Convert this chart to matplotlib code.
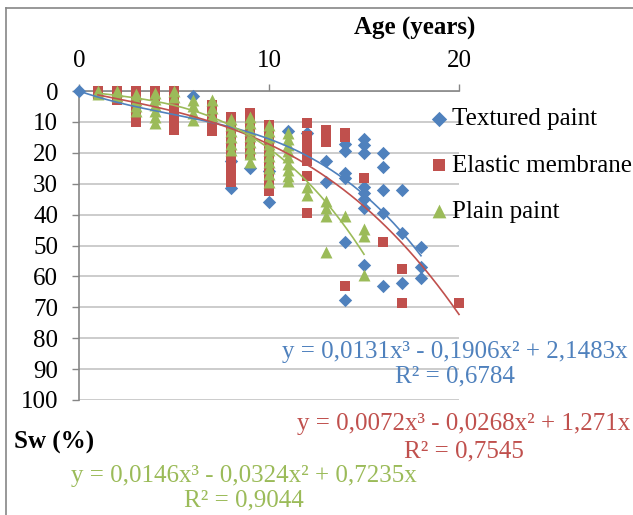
import matplotlib.pyplot as plt
import numpy as np
from matplotlib.lines import Line2D

plt.rcParams['font.family'] = ['Liberation Serif', 'DejaVu Serif']

W, H = 633, 515

# Textured paint
tex_x = [0, 6, 8, 8, 9, 10, 10, 11, 12, 13, 13,
         14, 14, 14, 14, 14, 14,
         15, 15, 15, 15, 15, 15, 15, 15,
         16, 16, 16, 16, 16, 17, 17, 17, 18, 18, 18]
tex_y = [0, 1.5, 22.5, 31.5, 25, 26, 36, 13, 13.5, 22.5, 29.5,
         17, 19.5, 26.5, 28, 49, 67.7,
         15.5, 17.5, 20, 31, 33, 35, 38, 56.3,
         20, 24.5, 32, 39.5, 63, 32, 46, 62, 50.5, 57, 60.5]

# Elastic membrane
ela_x = [1, 1, 2, 2, 2, 3, 3, 3, 3, 3, 3, 4, 4,
         5, 5, 5, 5, 5, 5, 5,
         7, 7, 7, 7, 7,
         8, 8, 8, 8, 8, 8, 8, 8, 8, 8, 8,
         9, 9, 9, 9, 9, 9, 9, 9,
         10, 10, 10, 10, 10, 10, 10, 10, 10, 10, 10, 10,
         12, 12, 12, 12, 12, 12, 12, 12,
         13, 13, 13, 14, 14, 14, 15, 16, 17, 17, 20]
ela_y = [0, 1, 0, 2, 3, 0, 2, 4, 6, 8, 10, 0, 1.5,
         0, 2, 4, 6, 8, 10, 12.5,
         4.5, 7, 9, 11, 13,
         8.5, 11, 13, 15, 17, 19, 21, 23, 25, 27, 29.5,
         7, 9, 11, 13, 15, 17, 19, 20.5,
         11, 13, 15, 17, 19, 21, 23, 25, 27, 29, 31, 32.5,
         10.5, 14.5, 16.5, 18.5, 20.5, 22.5, 27.5, 39.5,
         12.5, 14.5, 16.5, 13.5, 15, 63, 28, 49, 57.6, 68.6, 68.6]

# Plain paint
pla_x = [1, 1, 2, 2, 3, 3, 3, 3, 4, 4, 4, 4, 4, 4, 5, 5,
         6, 6, 6, 6, 7, 7, 7,
         8, 8, 8, 8, 8, 8,
         9, 9, 9, 9, 9, 9, 9, 9,
         10, 10, 10, 10, 10, 10, 10, 10, 10, 10,
         11, 11, 11, 11, 11, 11, 11, 11, 11,
         12, 12, 13, 13, 13, 13, 14, 15, 15, 15]
pla_y = [0, 1, 0, 1.5, 1, 3, 5, 6.5, 0.5, 2.5, 4.5, 6.5, 8.5, 10.5, 0, 2,
         3, 5, 7, 9.5, 3, 5.5, 8,
         9, 11, 13, 15, 17, 19,
         8.5, 10.5, 12.5, 14.5, 16.5, 18.5, 20.5, 23,
         11, 13, 15, 17, 19, 21, 23, 25, 27, 29.5,
         13.5, 15.5, 17.5, 19.5, 21.5, 23.5, 25.5, 27.5, 29,
         31, 33.5, 35.5, 38, 40.5, 52, 40.5, 44.5, 47, 59.5]

# cubic trend coefficients (zero intercept) and R²
tex_coef = [0.0131, -0.1906, 2.1483, 0]
ela_coef = [0.0072, -0.0268, 1.271, 0]
pla_coef = [0.0146, -0.0324, 0.7235, 0]
tex_r2 = 0.6784
ela_r2 = 0.7545
pla_r2 = 0.9044

BLUE = '#4F81BD'
RED = '#C0504D'
GREEN = '#9BBB59'
FS = 18


def num(v):
    s = f"{abs(v):.4f}".rstrip('0').rstrip('.')
    return s.replace('.', ',')


def equation(c):
    a, b, d = c[0], c[1], c[2]
    sb = '-' if b < 0 else '+'
    sd = '-' if d < 0 else '+'
    return f"y = {num(a)}x³ {sb} {num(b)}x² {sd} {num(d)}x"


def px(x, y):
    return x / W, 1 - y / H


fig = plt.figure(figsize=(W / 100, H / 100), dpi=100)
ax = fig.add_axes([79 / W, 115 / H, 380 / W, 309 / H])

ax.scatter(tex_x, tex_y, marker='D', s=6.8 ** 2, color=BLUE, linewidths=0,
           clip_on=False, zorder=3, label='Textured paint')
ax.scatter(ela_x, ela_y, marker='s', s=7.6 ** 2, color=RED, linewidths=0,
           clip_on=False, zorder=4, label='Elastic membrane')
ax.scatter(pla_x, pla_y, marker='^', s=8.6 ** 2, color=GREEN, linewidths=0,
           clip_on=False, zorder=5, label='Plain paint')

for xs, coef, col in [(tex_x, tex_coef, BLUE), (ela_x, ela_coef, RED),
                      (pla_x, pla_coef, GREEN)]:
    t = np.linspace(min(xs), max(xs), 200)
    ax.plot(t, np.polyval(coef, t), color=col, lw=1.2, zorder=6, clip_on=False)

ax.set_xlim(0, 20)
ax.set_ylim(100, 0)
ax.set_xticks([0, 10, 20])
ax.set_yticks(np.arange(0, 101, 10))
ax.xaxis.tick_top()
ax.tick_params(axis='x', direction='out', length=5, width=1, color='#868686',
               labelsize=FS, pad=9)
ax.tick_params(axis='y', direction='out', length=5, width=1, color='#868686',
               labelsize=FS, pad=10)
ax.grid(axis='y', color='#BFBFBF', lw=1.1)
ax.grid(axis='x', visible=False)
ax.set_axisbelow(True)
for side in ['right', 'bottom']:
    ax.spines[side].set_visible(False)
for side in ['left', 'top']:
    ax.spines[side].set_color('#868686')
    ax.spines[side].set_linewidth(1.2)

leg = ax.legend(loc='upper left', bbox_to_anchor=px(431, 108),
                bbox_transform=fig.transFigure, frameon=False, fontsize=FS,
                handlelength=0.6, handletextpad=0.25, labelspacing=0.95,
                borderpad=0, borderaxespad=0, scatterpoints=1, markerscale=1.15)

fig.text(*px(415, 28), 'Age (years)', ha='center', va='center', fontsize=FS,
         fontweight='bold')
fig.text(*px(14, 442), 'Sw (%)', ha='left', va='center', fontsize=FS,
         fontweight='bold')

for cx, y1, y2, coef, r2, col in [(455, 352, 376, tex_coef, tex_r2, BLUE),
                                  (464, 424, 451, ela_coef, ela_r2, RED),
                                  (244, 476, 500, pla_coef, pla_r2, GREEN)]:
    fig.text(*px(cx, y1), equation(coef), ha='center', va='center',
             fontsize=FS, color=col)
    fig.text(*px(cx, y2), f"R² = {num(r2)}", ha='center', va='center',
             fontsize=FS, color=col)

# frame around the chart
fig.add_artist(Line2D([6 / W, 6 / W], [0, 1 - 8 / H], color='#868686', lw=1.2))
fig.add_artist(Line2D([6 / W, 1], [1 - 8 / H, 1 - 8 / H], color='#868686', lw=1.2))

fig.savefig('out.png', dpi=100)
